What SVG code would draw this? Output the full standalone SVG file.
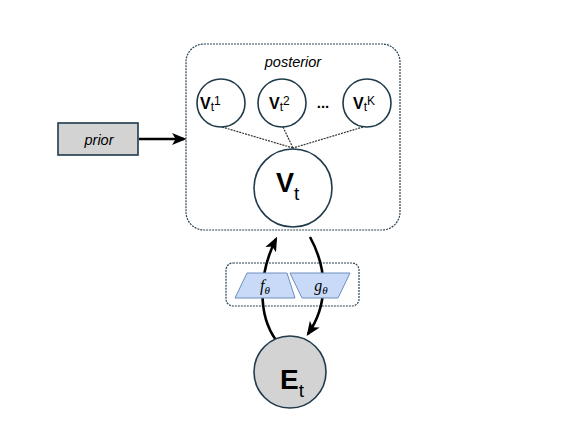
<svg xmlns="http://www.w3.org/2000/svg" width="585" height="439" viewBox="0 0 585 439">
<style>
.grp{fill:none;stroke:#2b4455;stroke-width:1.2;stroke-dasharray:2 1}
.node{fill:#ffffff;stroke:#1f3a4b;stroke-width:1.6}
.gray{fill:#d3d3d3;stroke:#1f3a4b;stroke-width:1.6}
.fn{fill:#c9daf8;stroke:#6c8ebf;stroke-width:1}
.lbl{font-family:"Liberation Sans",Arial,sans-serif;fill:#000}
.it{font-family:"Liberation Sans",Arial,sans-serif;font-style:italic;font-size:14.5px;fill:#000}
.math{font-family:"Liberation Serif","Times New Roman",serif;font-style:italic;font-size:16px;fill:#000}
.dot{fill:none;stroke:#333;stroke-width:1.2;stroke-dasharray:2 1}
.arr{fill:none;stroke:#000;stroke-width:2.6}
</style>
<defs>
<marker id="ah" viewBox="0 0 12 10" refX="10" refY="5" markerWidth="5.5" markerHeight="5.5" orient="auto" markerUnits="strokeWidth">
<path d="M0,0 L12,5 L0,10 L3,5 Z" fill="#000"/>
</marker>
</defs>
<g id="posterior">
<rect class="grp" x="186" y="44" width="214" height="186" rx="18"/>
<text class="it" x="293" y="67" text-anchor="middle">posterior</text>
</g>
<g id="fg-group">
<rect class="grp" x="226" y="263" width="133" height="43" rx="7"/>
</g>
<g id="connectors">
<line class="dot" x1="222" y1="127" x2="293" y2="148"/>
<line class="dot" x1="283" y1="127" x2="293" y2="148"/>
<line class="dot" x1="363" y1="127" x2="293" y2="148"/>
<line class="arr" x1="139" y1="139" x2="184" y2="139" marker-end="url(#ah)"/>
<path class="arr" d="M276,340 C258,315 258,275 276,239" marker-end="url(#ah)"/>
<path class="arr" d="M310,237 C328,270 328,305 308,334" marker-end="url(#ah)"/>
</g>
<g id="prior">
<rect class="gray" x="58" y="123" width="80" height="32"/>
<text class="it" x="99" y="144.5" text-anchor="middle" font-size="15">prior</text>
</g>
<g id="vt1">
<circle class="node" cx="221" cy="103" r="24"/>
<text class="lbl" x="200" y="108.5" font-size="16"><tspan font-weight="bold">V</tspan><tspan font-size="12" dy="2">t</tspan><tspan font-size="12" dy="-6">1</tspan></text>
</g>
<g id="vt2">
<circle class="node" cx="282" cy="103" r="24"/>
<text class="lbl" x="269" y="108.5" font-size="16"><tspan font-weight="bold">V</tspan><tspan font-size="12" dy="2">t</tspan><tspan font-size="12" dy="-6">2</tspan></text>
</g>
<g id="dots">
<text class="lbl" x="323" y="108" font-size="15" font-weight="bold" text-anchor="middle">...</text>
</g>
<g id="vtk">
<circle class="node" cx="367" cy="103" r="24"/>
<text class="lbl" x="353" y="108.5" font-size="16"><tspan font-weight="bold">V</tspan><tspan font-size="12" dy="2">t</tspan><tspan font-size="12" dy="-6">K</tspan></text>
</g>
<g id="vt">
<circle class="node" cx="293" cy="188" r="39"/>
<text class="lbl" x="276" y="192" font-size="27"><tspan font-weight="bold">V</tspan><tspan font-size="19" dy="8">t</tspan></text>
</g>
<g id="f">
<polygon class="fn" points="247,273 287,273 295,298 235,298"/>
<text class="math" x="265" y="291" text-anchor="middle">f<tspan font-size="11" dy="3">θ</tspan></text>
</g>
<g id="g">
<polygon class="fn" points="290,273 350,273 338,298 302,298"/>
<text class="math" x="321" y="291" text-anchor="middle">g<tspan font-size="11" dy="3">θ</tspan></text>
</g>
<g id="et">
<circle class="gray" cx="290" cy="372" r="36"/>
<text class="lbl" x="280" y="389" font-size="28"><tspan font-weight="bold">E</tspan><tspan font-size="19" dy="8">t</tspan></text>
</g>
</svg>
